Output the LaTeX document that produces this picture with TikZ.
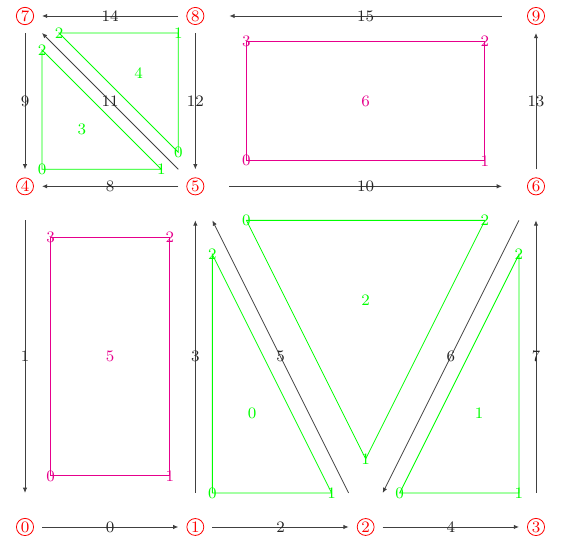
\documentclass[tikz,border=0pt]{standalone}
\usetikzlibrary{calc,arrows.meta}
\definecolor{quadpink}{RGB}{230,0,140}
\begin{document}
\begin{tikzpicture}[x=3cm,y=3cm,
		sommet/.style={circle,draw=red,text=red,inner sep=0.6pt,font=\footnotesize},
		arete/.style={black!75,-{Latex[length=2.6pt,width=2.2pt]}},
		num/.style={font=\footnotesize},
		tri/.style={green},
		quad/.style={quadpink}]
		\useasboundingbox (-0.1468,-0.1115) rectangle (3.1527,3.094);
		
		% sommets
		\foreach \i/\x/\y in {0/0/0,1/1/0,2/2/0,3/3/0,4/0/2,5/1/2,6/3/2,7/0/3,8/1/3,9/3/3}{
			\node[sommet] (v\i) at (\x,\y) {\i}; }
		
		% aretes
		\foreach \a/\b/\n in {0/1/0,4/0/1,1/2/2,1/5/3,2/3/4,2/5/5,6/2/6,3/6/7,5/4/8,7/4/9,5/6/10,5/7/11,8/5/12,6/9/13,8/7/14,9/8/15}{
			\draw[arete] ($(v\a)!0.1!(v\b)$) -- node[num,text=black!85]{\n} ($(v\a)!0.9!(v\b)$); }
		
		% triangles
		\foreach \f/\a/\b/\c in {0/1/2/5,1/2/3/6,2/5/2/6,3/4/5/7,4/5/8/7}{
			\coordinate (f\f) at ($(v\a)!2/3!($(v\b)!0.5!(v\c)$)$);
			\draw[tri] ($(v\a)!0.3!(f\f)$) node[num]{0} -- ($(v\b)!0.3!(f\f)$) node[num]{1}
				-- ($(v\c)!0.3!(f\f)$) node[num]{2} -- cycle;
			\node[num,green] (t\f) at (f\f) {\f}; }
		
		% quadrangles
		\foreach \f/\a/\b/\c/\d in {5/0/1/5/4,6/5/6/9/8}{
			\coordinate (f\f) at ($(v\a)!0.5!(v\c)$);
			\draw[quad] ($(v\a)!0.3!(f\f)$) node[num]{0} -- ($(v\b)!0.3!(f\f)$) node[num]{1}
				-- ($(v\c)!0.3!(f\f)$) node[num]{2} -- ($(v\d)!0.3!(f\f)$) node[num]{3} -- cycle;
			\node[num,quadpink] (q\f) at (f\f) {\f}; }
		
	\end{tikzpicture}
\end{document}
